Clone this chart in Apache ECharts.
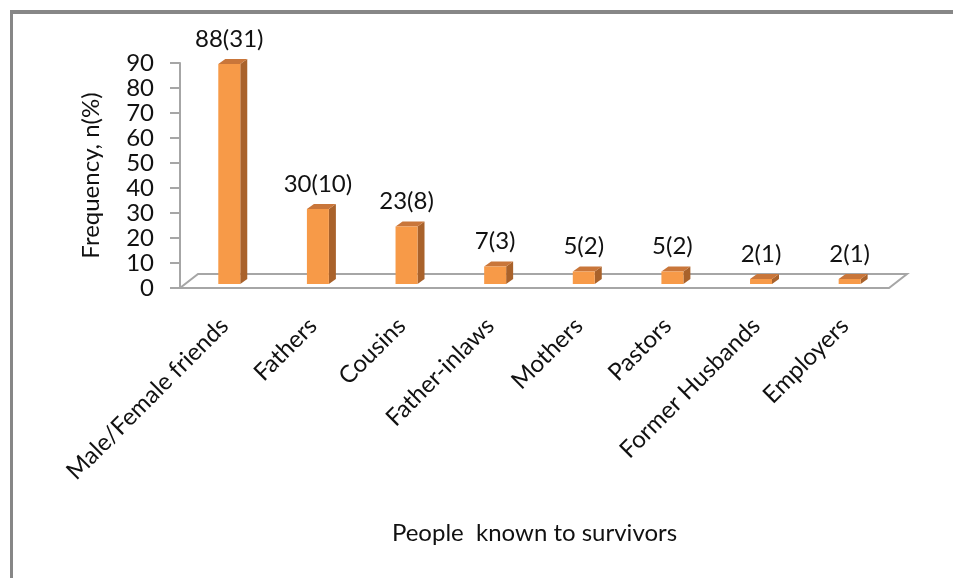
<!DOCTYPE html>
<html>
<head>
<meta charset="utf-8">
<script src="https://cdn.jsdelivr.net/npm/echarts@6/dist/echarts.min.js"></script>
<style>html,body{margin:0;padding:0;background:#fff}#c{width:953px;height:578px}</style>
</head>
<body>
<div id="c"></div>
<script>
const categories = ['Male/Female friends','Fathers','Cousins','Father-inlaws','Mothers','Pastors','Former Husbands','Employers'];
const counts = [88,30,23,7,5,5,2,2];
const percents = [31,10,8,3,2,2,1,1];
const yTicks = [0,10,20,30,40,50,60,70,80,90];

const FONT = 'Lato';
const chart = echarts.init(document.getElementById('c'));

const floorDepth = [18, -14];
const barDepth = [7, -5];

chart.setOption({
  backgroundColor: '#fff',
  animation: false,
  graphic: [
    {type:'rect', shape:{x:10,y:10,width:943,height:4}, style:{fill:'#878787'}, z:100},
    {type:'rect', shape:{x:10,y:10,width:3,height:568}, style:{fill:'#878787'}, z:100}
  ],
  grid: {left:180, right:64, top:63, bottom:290},
  xAxis: {
    type:'category', data: categories,
    axisLine:{show:false}, axisTick:{show:false},
    axisLabel:{interval:0, rotate:45, margin:34, fontFamily:FONT, fontSize:24, color:'#111'},
    name:'People  known to survivors', nameLocation:'middle', nameGap:233,
    nameTextStyle:{fontFamily:FONT, fontSize:24, color:'#111'}
  },
  yAxis: {
    type:'value', min:yTicks[0], max:yTicks[yTicks.length-1], interval:10,
    axisLine:{show:true, lineStyle:{color:'#a6a6a6', width:2}},
    axisTick:{show:true, length:10, lineStyle:{color:'#a6a6a6', width:2}},
    splitLine:{show:false},
    axisLabel:{margin:26, fontFamily:FONT, fontSize:24, color:'#111'},
    name:'Frequency, n(%)', nameLocation:'middle', nameGap:77,
    nameTextStyle:{fontFamily:FONT, fontSize:24, color:'#111'}
  },
  series: [
    {
      type:'custom', data:[0], z:1, silent:true,
      renderItem: function(params, api){
        const cs = params.coordSys;
        const x0 = cs.x, x1 = cs.x + cs.width, y = cs.y + cs.height;
        const dx = floorDepth[0], dy = floorDepth[1];
        return {
          type:'polygon',
          shape:{points:[[x0,y],[x1,y],[x1+dx,y+dy],[x0+dx,y+dy]]},
          style:{fill:'#fff', stroke:'#a6a6a6', lineWidth:2}
        };
      }
    },
    {
      type:'custom', z:2,
      data: counts.map((v,i)=>[i,v,percents[i]]),
      encode:{x:0, y:1},
      renderItem: function(params, api){
        const i = api.value(0), v = api.value(1), p = api.value(2);
        const top = api.coord([i, v]);
        const base = api.coord([i, 0]);
        const band = api.size([1,0])[0];
        const w = band*0.248;
        const cx = base[0] + band*0.056;
        const by = base[1] - 4;
        const h = Math.max(base[1]-top[1], 2);
        const xl = cx - w/2, xr = cx + w/2, yt = by - h;
        const dx = barDepth[0], dy = barDepth[1];
        return {
          type:'group',
          children:[
            {type:'polygon', shape:{points:[[xr,yt],[xr+dx,yt+dy],[xr+dx,by+dy],[xr,by]]}, style:{fill:'#A9622B'}},
            {type:'polygon', shape:{points:[[xl,yt],[xl+dx,yt+dy],[xr+dx,yt+dy],[xr,yt]]}, style:{fill:'#C9763A'}},
            {type:'rect', shape:{x:xl, y:yt, width:w, height:h}, style:{fill:'#F79A48'}},
            {type:'text', style:{text: v + '(' + p + ')', x: cx, y: yt + dy - 20, align:'center', verticalAlign:'middle', font:'24px Lato', fill:'#111'}}
          ]
        };
      }
    }
  ]
});
</script>
</body>
</html>
